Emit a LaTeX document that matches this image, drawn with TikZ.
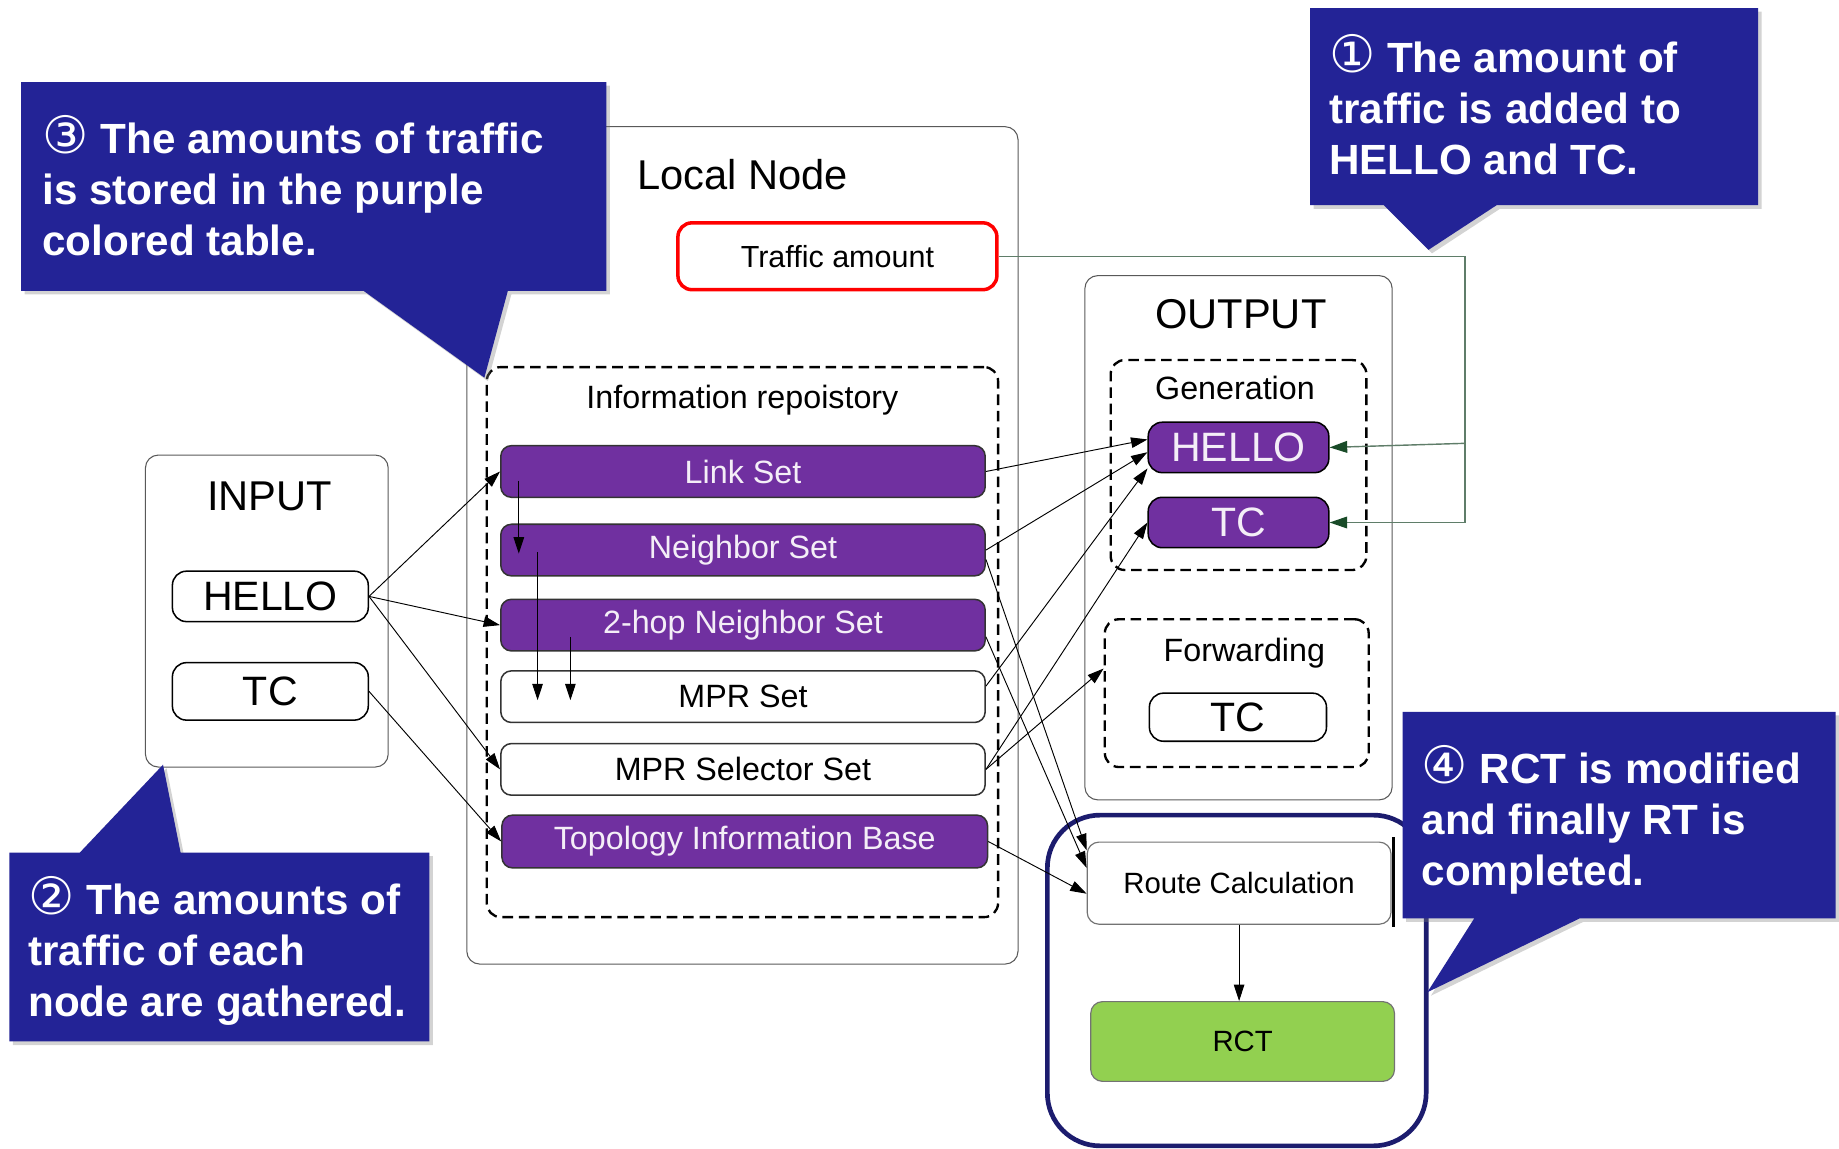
\documentclass[tikz,border=0pt]{standalone}
\usepackage{fontspec}
\setmainfont{Liberation Sans}
\newfontfamily\circfont{DejaVu Sans}
\usepackage{tikz}
\usepackage{xcolor}
\usetikzlibrary{arrows.meta, shadows}

\definecolor{setpurple}{RGB}{112,48,160}
\definecolor{rctgreen}{RGB}{146,208,80}
\definecolor{notenavy}{RGB}{35,35,150}
\definecolor{framenavy}{RGB}{28,28,110}
\definecolor{feedgreen}{RGB}{95,125,105}
\definecolor{tipgreen}{RGB}{25,75,40}

\newcommand{\circnum}[1]{{\circfont\mdseries\fontsize{44}{43.5}\selectfont #1}}

\begin{document}
\begin{tikzpicture}[x=1pt, y=-1pt,
    panelbox/.style={draw=black!65, line width=0.9pt, rounded corners=11pt, inner sep=0pt},
    groupbox/.style={draw, line width=2pt, dash pattern=on 9pt off 5pt, rounded corners=12pt, inner sep=0pt},
    purpleset/.style={draw=black!80, line width=1.3pt, fill=setpurple, text=white!92!setpurple,
        rounded corners=9pt, minimum width=413pt, minimum height=44pt, inner sep=0pt,
        font=\fontsize{27.5}{30}\selectfont},
    whiteset/.style={purpleset, fill=white, text=black},
    msgbox/.style={draw, line width=1.3pt, rounded corners=12pt, minimum height=43pt, inner sep=0pt,
        font=\fontsize{35}{40}\selectfont},
    bigtitle/.style={font=\fontsize{35.5}{40}\selectfont},
    midtitle/.style={font=\fontsize{27.5}{32}\selectfont},
    msglink/.style={line width=0.8pt, -{Triangle[length=14pt,width=9pt]}},
    feedline/.style={draw=feedgreen, line width=1.2pt, -{Triangle[length=15pt,width=10pt,color=tipgreen]}},
    notebox/.style={fill=notenavy, drop shadow={shadow xshift=3pt, shadow yshift=-3pt, opacity=0.35}},
    notetext/.style={text=white, align=left, anchor=north west, inner sep=0pt,
        font=\bfseries\fontsize{36}{43.5}\selectfont}]

    \useasboundingbox (0,0) rectangle (1568,979);

    % Draw the outer panels
    \node[panelbox, minimum width=470pt, minimum height=714pt] (local) at (633,465) {};
    \node[panelbox, minimum width=207pt, minimum height=266pt] (input) at (227.5,521) {};
    \node[panelbox, minimum width=262pt, minimum height=447pt] (output) at (1056,458.5) {};

    % Draw the dashed groups
    \node[groupbox, minimum width=436pt, minimum height=469pt] (repo) at (633,547.5) {};
    \node[groupbox, minimum width=218pt, minimum height=179pt] (gen) at (1056,396.5) {};
    \node[groupbox, minimum width=225pt, minimum height=126pt] (fwd) at (1054.5,591) {};

    % Titles
    \node[bigtitle, anchor=west] (localtitle) at (540,149) {Local Node};
    \node[midtitle] (repotitle) at (633,341) {Information repoistory};
    \node[bigtitle] (inputtitle) at (230,423) {INPUT};
    \node[bigtitle] (outputtitle) at (1058,268) {OUTPUT};
    \node[midtitle] (gentitle) at (1053,331) {Generation};
    \node[midtitle] (fwdtitle) at (1061,557) {Forwarding};

    % Traffic amount
    \node[draw=red, line width=3pt, rounded corners=12pt, minimum width=272pt, minimum height=57pt,
        inner sep=0pt, font=\fontsize{26}{30}\selectfont] (traffic) at (714,218.5) {Traffic amount};

    % Add the sets of the repository
    \foreach \name/\y/\txt in {link/402/Link Set, neigh/469/Neighbor Set, twohop/533/2-hop Neighbor Set}
        \node[purpleset] (\name) at (633.5,\y) {\txt};
    \foreach \name/\y/\txt in {mpr/594/MPR Set, mprs/656/MPR Selector Set}
        \node[whiteset] (\name) at (633.5,\y) {\txt};
    \node[purpleset, minimum width=414pt, minimum height=45pt] (topo) at (635,717.5) {Topology Information Base};

    % Messages in and out
    \node[msgbox, minimum width=167pt] (helloin) at (230.5,508.5) {HELLO};
    \node[msgbox, minimum width=167pt, minimum height=49pt] (tcin) at (230.5,589.5) {TC};
    \node[msgbox, fill=setpurple, text=white!92!setpurple, minimum width=154pt] (helloout) at (1056,381.5) {HELLO};
    \node[msgbox, fill=setpurple, text=white!92!setpurple, minimum width=154pt] (tcout) at (1056,445.5) {TC};
    \node[msgbox, minimum width=151pt, minimum height=41pt] (tcfwd) at (1055.5,611.5) {TC};

    % Route calculation
    \node[draw=framenavy, line width=4pt, rounded corners=45pt, minimum width=323pt,
        minimum height=282pt] (routeframe) at (1054.5,836) {};
    \node[draw=black!55, line width=1pt, fill=white, rounded corners=10pt, minimum width=259pt,
        minimum height=70pt, font=\fontsize{25}{30}\selectfont] (route) at (1056.5,753) {Route Calculation};
    \node[draw=black!55, line width=1pt, fill=rctgreen, rounded corners=10pt, minimum width=259pt,
        minimum height=68pt, font=\fontsize{25}{30}\selectfont] (rct) at (1059.5,888) {RCT};
    \draw[line width=2pt] (1188,714) -- (1188,790);

    % Draw the connectors
    \foreach \dest in {link, twohop, mprs}
        \draw[msglink] (helloin.east) -- (\dest.west);
    \draw[msglink] (tcin.east) -- (topo.west);
    \draw[msglink] ([xshift=16pt,yshift=-8pt]link.west) -- ([xshift=16pt,yshift=-3pt]neigh.west);
    \draw[msglink] ([xshift=32pt,yshift=-2pt]neigh.west) -- ([xshift=32pt,yshift=-3pt]mpr.west);
    \draw[msglink] ([xshift=60pt,yshift=-10pt]twohop.west) -- ([xshift=60pt,yshift=-3pt]mpr.west);
    \draw[msglink] (link.east) -- (helloout.175);
    \draw[msglink] (neigh.east) -- (helloout.183);
    \draw[msglink] ([yshift=9pt]mpr.east) -- (helloout.193);
    \draw[msglink] (mprs.east) -- (tcout.west);
    \draw[msglink] (mprs.east) -- ([yshift=21pt]fwd.west);
    \draw[msglink] ([yshift=-8pt]neigh.east) -- ([yshift=28pt]route.west);
    \draw[msglink] ([yshift=-10pt]twohop.east) -- ([yshift=13pt]route.west);
    \draw[msglink] (topo.east) -- ([yshift=-9pt]route.west);
    \draw[msglink] (route.south) -- (route.south |- rct.north);

    % Traffic amount fed to HELLO and TC
    \coordinate (tap) at (1249,378);
    \draw[feedline] (traffic.east) -| (tap) |- (tcout.east);
    \draw[feedline] (tap) -- (helloout.east);

    % Callouts
    \fill[notebox] (1117,7) -- (1499,7) -- (1499,175) -- (1276,175) -- (1218,213) -- (1180,175) -- (1117,175) -- cycle;
    \node[notetext] (note1) at (1133,29) {\circnum{①} The amount of\\traffic is added to\\HELLO and TC.};

    \fill[notebox] (8,727) -- (68,727) -- (139,652) -- (154,727) -- (366,727) -- (366,888) -- (8,888) -- cycle;
    \node[notetext] (note2) at (24,747) {\circnum{②} The amounts of\\traffic of each\\node are gathered.};

    \fill[notebox] (18,70) -- (517,70) -- (517,248) -- (433,248) -- (413,322) -- (310,248) -- (18,248) -- cycle;
    \node[notetext] (note3) at (36,98) {\circnum{③} The amounts of traffic\\is stored in the purple\\colored table.};

    \fill[notebox] (1196,607) -- (1565,607) -- (1565,783) -- (1347,783) -- (1217,846) -- (1257,783) -- (1196,783) -- cycle;
    \node[notetext] (note4) at (1212,635) {\circnum{④} RCT is modified\\and finally RT is\\completed.};
\end{tikzpicture}
\end{document}
